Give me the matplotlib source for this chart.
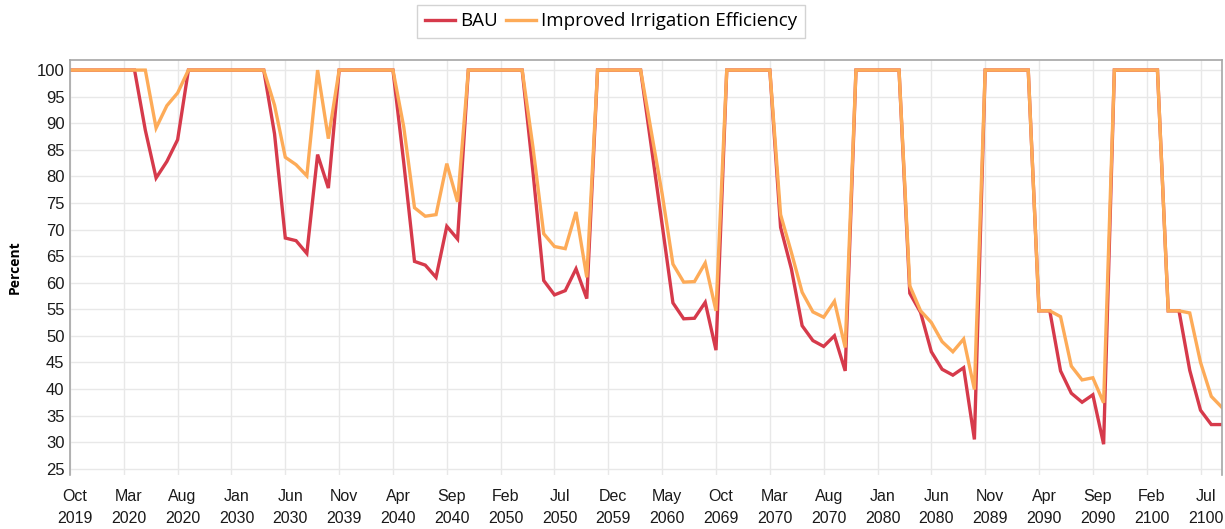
import numpy as np
import matplotlib
matplotlib.use("Agg")
import matplotlib.pyplot as plt
import matplotlib.transforms as mtransforms


# monthly values (one point per month in the model run)
bau = [
    100, 100, 100, 100, 100, 100, 100, 88.7, 79.7, 82.8,
    86.9, 100, 100, 100, 100, 100, 100, 100, 100, 88.0,
    68.4, 67.9, 65.5, 84.1, 77.8, 100, 100, 100, 100, 100,
    100, 82.6, 64.0, 63.3, 61.0, 70.6, 68.2, 100, 100, 100,
    100, 100, 100, 80.9, 60.4, 57.7, 58.5, 62.6, 57.0, 100,
    100, 100, 100, 100, 85.5, 70.9, 56.2, 53.2, 53.3, 56.3,
    47.3, 100, 100, 100, 100, 100, 70.4, 62.6, 51.9, 49.1,
    48.0, 50.0, 43.4, 100, 100, 100, 100, 100, 58.0, 54.4,
    47.0, 43.7, 42.6, 44.0, 30.5, 100, 100, 100, 100, 100,
    54.7, 54.7, 43.4, 39.2, 37.5, 38.9, 29.6, 100, 100, 100,
    100, 100, 54.7, 54.7, 43.5, 36.0, 33.3, 33.3,
]
improved = [
    100, 100, 100, 100, 100, 100, 100, 100, 89.1, 93.3,
    95.7, 100, 100, 100, 100, 100, 100, 100, 100, 93.4,
    83.6, 82.2, 80.1, 100, 87.1, 100, 100, 100, 100, 100,
    100, 89.3, 74.1, 72.5, 72.8, 82.4, 75.2, 100, 100, 100,
    100, 100, 100, 85.5, 69.2, 66.8, 66.4, 73.3, 61.0, 100,
    100, 100, 100, 100, 88.3, 76.7, 63.5, 60.1, 60.2, 63.7,
    54.7, 100, 100, 100, 100, 100, 72.8, 65.7, 58.2, 54.5,
    53.5, 56.5, 47.8, 100, 100, 100, 100, 100, 59.4, 54.7,
    52.5, 48.9, 47.0, 49.4, 39.9, 100, 100, 100, 100, 100,
    54.7, 54.7, 53.6, 44.3, 41.7, 42.1, 37.4, 100, 100, 100,
    100, 100, 54.7, 54.7, 54.3, 45.0, 38.6, 36.5,
]
tick_labels = [
    "Oct\n2019", "Mar\n2020", "Aug\n2020", "Jan\n2030", "Jun\n2030",
    "Nov\n2039", "Apr\n2040", "Sep\n2040", "Feb\n2050", "Jul\n2050",
    "Dec\n2059", "May\n2060", "Oct\n2069", "Mar\n2070", "Aug\n2070",
    "Jan\n2080", "Jun\n2080", "Nov\n2089", "Apr\n2090", "Sep\n2090",
    "Feb\n2100", "Jul\n2100",
]
y_ticks = list(range(25, 101, 5))

RED = "#d63a4b"
ORANGE = "#fdab58"
GRID = "#e8e8e8"
EDGE = "#a6a6a6"

x = np.arange(len(bau))

fig = plt.figure(figsize=(12.25, 5.29), dpi=100)
ax = fig.add_axes([0.0571, 0.102, 0.9405, 0.7846])

ax.plot(x, bau, color=RED, lw=2.4, label="BAU", solid_joinstyle="miter")
ax.plot(x, improved, color=ORANGE, lw=2.4, label="Improved Irrigation Efficiency",
        solid_joinstyle="miter")

ax.set_xlim(0, len(bau) - 1)
ax.set_ylim(23.8, 101.9)
ax.set_yticks(y_ticks)
ax.set_yticklabels([str(v) for v in y_ticks], fontsize=12,
                   family="Liberation Sans")
ax.set_xticks(np.arange(0, len(bau), 5))
ax.set_xticklabels(tick_labels, fontsize=11.5, family="Liberation Sans",
                   linespacing=1.6)
ax.tick_params(axis="y", length=0, pad=4, colors="#1a1a1a")
ax.tick_params(axis="x", length=0, pad=10, colors="#1a1a1a")

# labels sit a few pixels right of their grid line in the original
shift = mtransforms.ScaledTranslation(5 / 100, 0, fig.dpi_scale_trans)
for lab in ax.get_xticklabels():
    lab.set_transform(lab.get_transform() + shift)

ax.grid(True, color=GRID, lw=1)
ax.set_axisbelow(True)
for side in ["left", "top", "right"]:
    ax.spines[side].set_color(EDGE)
    ax.spines[side].set_linewidth(1.2)
ax.spines["bottom"].set_visible(False)

ax.set_ylabel("Percent", fontsize=10, fontweight="bold", labelpad=11,
              family="Open Sans")

leg = fig.legend(loc="center", bbox_to_anchor=(0.499, 0.96), ncol=2,
                 frameon=True, fancybox=False, edgecolor="#c8c8c8",
                 handlelength=1.6, handletextpad=0.3, columnspacing=0.4,
                 borderpad=0.4, prop={"family": "Open Sans", "size": 13.5})
leg.get_frame().set_linewidth(1.0)

fig.savefig("out.png", dpi=100)
